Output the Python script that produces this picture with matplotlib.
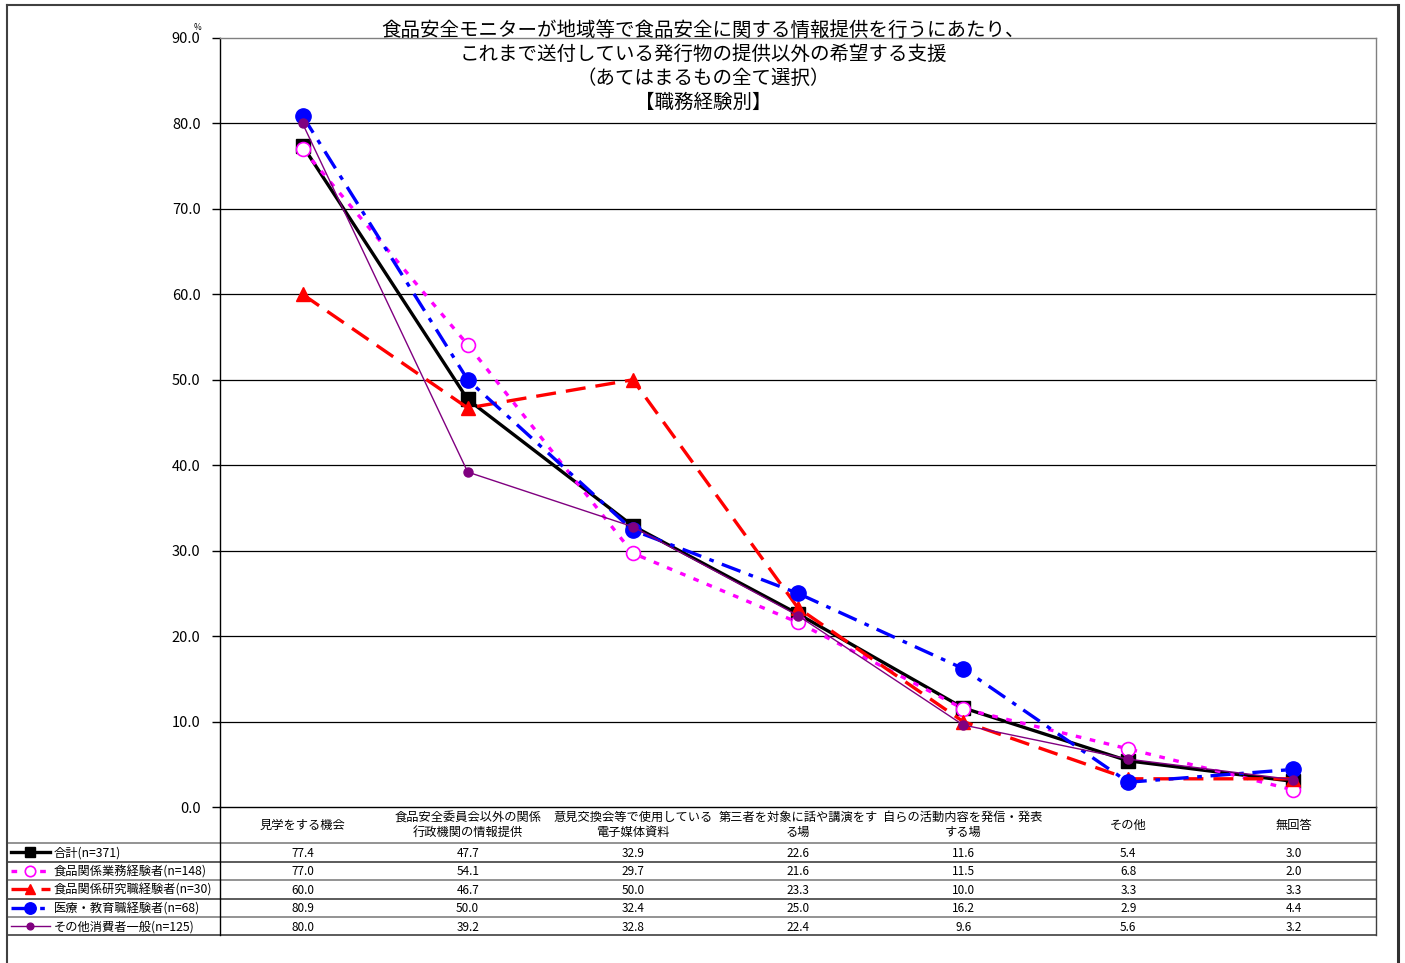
import matplotlib
matplotlib.use('Agg')
import matplotlib.pyplot as plt
from matplotlib.lines import Line2D
import numpy as np

plt.rcParams['font.family'] = ['Noto Sans CJK JP', 'DejaVu Sans']

# ---------------- data ----------------
categories = ['見学をする機会',
              '食品安全委員会以外の関係\n行政機関の情報提供',
              '意見交換会等で使用している\n電子媒体資料',
              '第三者を対象に話や講演をす\nる場',
              '自らの活動内容を発信・発表\nする場',
              'その他',
              '無回答']
series_names = ['合計(n=371)', '食品関係業務経験者(n=148)', '食品関係研究職経験者(n=30)',
                '医療・教育職経験者(n=68)', 'その他消費者一般(n=125)']
total = [77.4, 47.7, 32.9, 22.6, 11.6, 5.4, 3.0]
food_work = [77.0, 54.1, 29.7, 21.6, 11.5, 6.8, 2.0]
food_research = [60.0, 46.7, 50.0, 23.3, 10.0, 3.3, 3.3]
medical_edu = [80.9, 50.0, 32.4, 25.0, 16.2, 2.9, 4.4]
other_consumer = [80.0, 39.2, 32.8, 22.4, 9.6, 5.6, 3.2]
title_lines = ['食品安全モニターが地域等で食品安全に関する情報提供を行うにあたり、',
               'これまで送付している発行物の提供以外の希望する支援',
               '（あてはまるもの全て選択）',
               '【職務経験別】']
yticks = [0, 10, 20, 30, 40, 50, 60, 70, 80, 90]

series = [total, food_work, food_research, medical_edu, other_consumer]
styles = [
    dict(color='black', lw=2.4, ls='-', marker='s', ms=10, mfc='black', mec='black'),
    dict(color='#FF00FF', lw=2.4, dashes=(1.7, 2.6), marker='o', ms=10, mfc='white', mec='#FF00FF', mew=1.2),
    dict(color='#FF0000', lw=2.4, dashes=(6, 3), marker='^', ms=9.5, mfc='#FF0000', mec='#FF0000'),
    dict(color='#0000FF', lw=2.4, dashes=(6, 2.6, 1.4, 2.6), marker='o', ms=11, mfc='#0000FF', mec='#0000FF'),
    dict(color='#800080', lw=1.0, ls='-', marker='o', ms=6.5, mfc='#800080', mec='#800080'),
]

W, H = 1405, 963
fig = plt.figure(figsize=(W / 100, H / 100), dpi=100)

def fx(px):
    return px / W

def fy(py):
    return 1 - py / H

# plot area pixel geometry
L, R, T, B = 220, 1376, 38, 807
ax = fig.add_axes([fx(L), fy(B), fx(R - L), (B - T) / H])
n = len(categories)
x = np.arange(n)
ax.set_xlim(-0.5, n - 0.5)
ax.set_ylim(0, 90)
for s, st in zip(series, styles):
    ax.plot(x, s, clip_on=False, zorder=3, **st)
ax.set_yticks(yticks)
ax.set_yticklabels([f'{v:.1f}' for v in yticks], fontsize=10.5)
ax.tick_params(axis='y', direction='out', length=6, width=1, pad=8)
ax.set_xticks([])
for v in yticks[1:-1]:
    ax.axhline(v, color='black', lw=0.9, zorder=1)
ax.spines['left'].set_color('black')
ax.spines['bottom'].set_color('black')
ax.spines['top'].set_color('#808080')
ax.spines['right'].set_color('#808080')
for sp in ax.spines.values():
    sp.set_linewidth(1.0)

# % unit
fig.text(fx(197), fy(27), '%', fontsize=6, ha='center', va='center')

# title
for i, t in enumerate(title_lines):
    fig.text(fx(703), fy(30 + 24 * i), t, fontsize=14, ha='center', va='center')

# ---------------- data table ----------------
TL, TB = 7, 935
ppu = (R - L) / n
tax = fig.add_axes([fx(TL), fy(TB), fx(R - TL), (TB - B) / H])
tax.set_xlim(-0.5 - (L - TL) / ppu, n - 0.5)
tax.set_ylim(TB, B)
tax.axis('off')

def px2u(px):
    return -0.5 + (px - L) / ppu

header_mid = (B + 843) / 2
for i, c in enumerate(categories):
    tax.text(i, header_mid, c, fontsize=8.8, ha='center', va='center', linespacing=1.15)

row_lines = [843, 861.5, 880, 898.5, 917, 935]
for k, yl in enumerate(row_lines):
    tax.plot([px2u(TL), n - 0.5], [yl, yl], color='#404040' if k % 2 else '#808080',
             lw=1.2, clip_on=False)
tax.plot([-0.5, -0.5], [B, TB], color='black', lw=1.0, clip_on=False)
tax.plot([n - 0.5, n - 0.5], [B, TB], color='#404040', lw=1.0, clip_on=False)

for r, (s, st, name) in enumerate(zip(series, styles, series_names)):
    yc = (row_lines[r] + row_lines[r + 1]) / 2
    for i, v in enumerate(s):
        tax.text(i, yc + 1, f'{v:.1f}', fontsize=8.5, ha='center', va='center')
    sst = dict(st)
    sst['ms'] = st['ms'] * 0.75
    tax.plot([px2u(11), px2u(30), px2u(50)], [yc, yc, yc], markevery=[1],
             clip_on=False, **sst)
    tax.text(px2u(54), yc + 1, name, fontsize=8.8, ha='left', va='center')

# outer frame
fig.add_artist(Line2D([fx(7), fx(7)], [fy(5), 0], color='#404040', lw=1.5))
fig.add_artist(Line2D([fx(7), fx(1398)], [fy(5), fy(5)], color='#404040', lw=1.5))
fig.add_artist(Line2D([fx(1398), fx(1398)], [fy(5), 0], color='#303030', lw=2.2))

fig.savefig('out.png', dpi=100)
